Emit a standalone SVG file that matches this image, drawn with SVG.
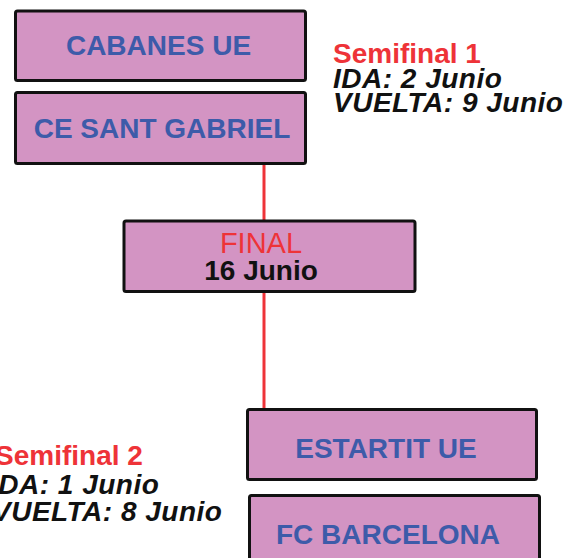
<svg xmlns="http://www.w3.org/2000/svg" width="571" height="558" viewBox="0 0 571 558">
<style>
.box{fill:#D394C3;stroke:#111;stroke-width:3;}
.team{font-family:"Liberation Sans",Arial,sans-serif;font-weight:bold;font-size:28px;fill:#3D5BA9;text-anchor:middle;}
.red{fill:#EE3338;}
.blk{fill:#111;}
.lbl{font-family:"Liberation Sans",Arial,sans-serif;font-weight:bold;font-size:28px;}
.it{font-style:italic;letter-spacing:0.5px;}
.conn{stroke:#EE3338;stroke-width:3;fill:none;}
</style>
<rect width="571" height="558" fill="#fff"/>
<g id="connectors">
<line class="conn" x1="264" y1="164" x2="264" y2="221"/>
<line class="conn" x1="264" y1="292" x2="264" y2="410"/>
</g>
<g id="cabanes">
<rect class="box" x="15.5" y="11" width="290" height="69.5" rx="2"/>
<text class="team" x="158.5" y="55">CABANES UE</text>
</g>
<g id="santgabriel">
<rect class="box" x="15.5" y="92.5" width="290" height="71" rx="2"/>
<text class="team" x="162" y="138">CE SANT GABRIEL</text>
</g>
<g id="final">
<rect class="box" x="124" y="221" width="291" height="70.5" rx="2"/>
<text x="261" y="252.5" font-family="Liberation Sans,Arial,sans-serif" font-size="29" fill="#EE3338" text-anchor="middle">FINAL</text>
<text class="lbl blk" x="261" y="280" text-anchor="middle">16 Junio</text>
</g>
<g id="estartit">
<rect class="box" x="247.5" y="409.5" width="289" height="70" rx="2"/>
<text class="team" x="386" y="458">ESTARTIT UE</text>
</g>
<g id="barcelona">
<rect class="box" x="249.5" y="495.5" width="290" height="80" rx="2"/>
<text class="team" x="388" y="544">FC BARCELONA</text>
</g>
<g id="semifinal1">
<text class="lbl red" x="333" y="62.5">Semifinal 1</text>
<text class="lbl blk it" x="333" y="87.5">IDA: 2 Junio</text>
<text class="lbl blk it" x="333" y="112">VUELTA: 9 Junio</text>
</g>
<g id="semifinal2">
<text class="lbl red" x="-5" y="465">Semifinal 2</text>
<text class="lbl blk it" x="-10" y="493.5">IDA: 1 Junio</text>
<text class="lbl blk it" x="-8" y="521">VUELTA: 8 Junio</text>
</g>
</svg>
